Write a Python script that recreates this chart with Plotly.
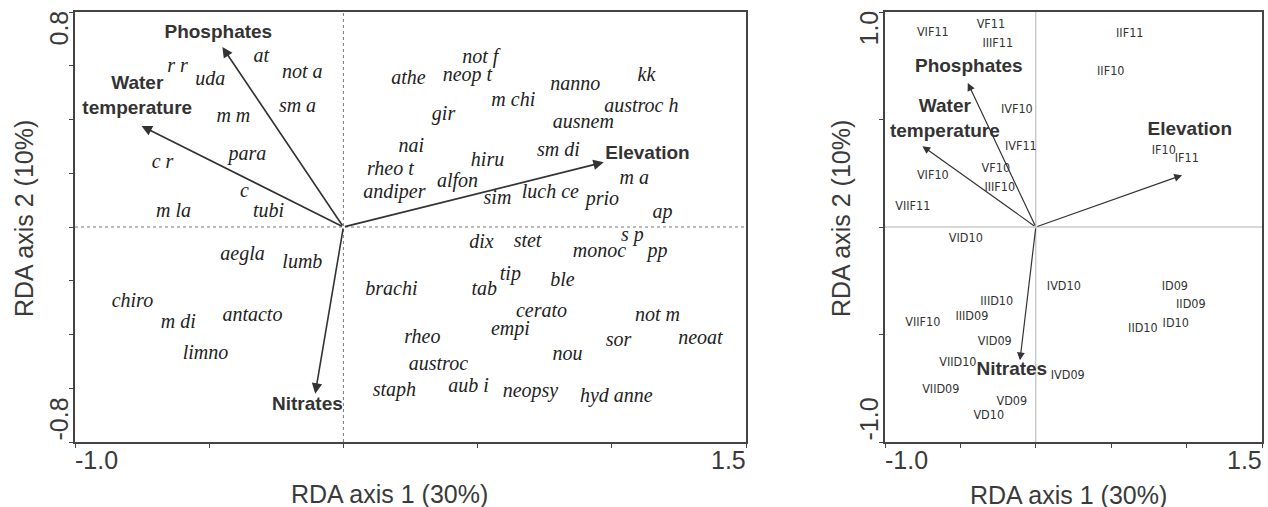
"""
RDA biplots: macroinvertebrate taxa (left) and sampling sites (right)
with environmental vectors.
"""

import plotly.graph_objects as go

# environmental vectors (same scores in both panels)
env_names = ['Phosphates', 'Water temperature', 'Elevation', 'Nitrates']
env_x = [-0.451, -0.752, 0.970, -0.105]
env_y = [0.670, 0.376, 0.241, -0.620]

# where the vector names sit
env_lab_left = ['Phosphates', 'Water<br>temperature', 'Elevation', 'Nitrates']
env_lab_left_x = [-0.466, -0.768, 1.133, -0.134]
env_lab_left_y = [0.722, 0.484, 0.272, -0.662]
env_lab_right_x = [-0.444, -0.603, 1.021, -0.159]
env_lab_right_y = [0.745, 0.500, 0.449, -0.667]

# taxa scores (left panel)
taxa = ['at', 'r r', 'not a', 'uda', 'm m', 'sm a', 'para', 'c r', 'c', 'tubi',
        'm la', 'not f', 'athe', 'neop t', 'nanno', 'kk', 'm chi', 'austroc h',
        'gir', 'ausnem', 'nai', 'sm di', 'hiru', 'rheo t', 'alfon', 'm a',
        'andiper', 'sim', 'luch ce', 'prio', 'ap', 'aegla', 'lumb', 'chiro',
        'antacto', 'm di', 'limno', 's p', 'dix', 'stet', 'monoc', 'pp', 'tip',
        'ble', 'brachi', 'tab', 'cerato', 'not m', 'empi', 'rheo', 'sor',
        'neoat', 'nou', 'austroc', 'staph', 'aub i', 'neopsy', 'hyd anne']
taxa_x = [-0.306, -0.618, -0.153, -0.496, -0.410, -0.171, -0.358, -0.674, -0.369, -0.279,
          -0.633, 0.510, 0.242, 0.462, 0.864, 1.129, 0.633, 1.110,
          0.373, 0.894, 0.253, 0.801, 0.537, 0.175, 0.425, 1.084,
          0.190, 0.574, 0.771, 0.965, 1.189, -0.376, -0.153, -0.786,
          -0.339, -0.615, -0.514, 1.077, 0.514, 0.686, 0.954, 1.170, 0.622,
          0.816, 0.179, 0.525, 0.738, 1.170, 0.622, 0.294, 1.025,
          1.330, 0.835, 0.354, 0.190, 0.466, 0.697, 1.017]
taxa_y = [0.633, 0.595, 0.573, 0.547, 0.409, 0.447, 0.268, 0.238, 0.130, 0.056,
          0.056, 0.629, 0.551, 0.562, 0.528, 0.562, 0.469, 0.447,
          0.417, 0.387, 0.298, 0.283, 0.246, 0.212, 0.167, 0.179,
          0.127, 0.104, 0.127, 0.100, 0.052, -0.104, -0.134, -0.279,
          -0.331, -0.357, -0.473, -0.033, -0.060, -0.056, -0.093, -0.093, -0.179,
          -0.201, -0.234, -0.234, -0.316, -0.331, -0.383, -0.413, -0.424,
          -0.417, -0.476, -0.513, -0.610, -0.595, -0.614, -0.633]

# site scores (right panel)
sites = ['VIF11', 'VF11', 'IIIF11', 'IIF11', 'IIF10', 'IVF10', 'IVF11', 'IF10',
         'IF11', 'VF10', 'VIF10', 'IIIF10', 'VIIF11', 'VID10', 'IVD10', 'ID09',
         'IIID10', 'IID09', 'VIIF10', 'IIID09', 'ID10', 'IID10', 'VID09',
         'VIID10', 'IVD09', 'VIID09', 'VD09', 'VD10']
sites_x = [-0.683, -0.298, -0.252, 0.623, 0.497, -0.126, -0.099, 0.849,
           1.001, -0.265, -0.683, -0.239, -0.816, -0.464, 0.186, 0.922,
           -0.259, 1.028, -0.749, -0.424, 0.928, 0.710, -0.272,
           -0.517, 0.212, -0.630, -0.159, -0.312]
sites_y = [0.903, 0.940, 0.852, 0.898, 0.722, 0.546, 0.375, 0.352,
           0.319, 0.269, 0.236, 0.181, 0.093, -0.056, -0.278, -0.278,
           -0.347, -0.361, -0.444, -0.417, -0.449, -0.472, -0.532,
           -0.630, -0.694, -0.759, -0.815, -0.880]

x_range = [-1.0, 1.5]
y_range_left = [-0.8, 0.8]
y_range_right = [-1.0, 1.0]

W, H = 1268, 507
dom_x_left = [75 / W, 746 / W]
dom_x_right = [885 / W, 1262 / W]
dom_y = [1 - 442 / H, 1 - 12 / H]

AX_COL = '#3a3a3a'
TXT_COL = '#333333'

fig = go.Figure()

# taxa names
fig.add_trace(go.Scatter(
    x=taxa_x, y=taxa_y, text=taxa, mode='text',
    textfont=dict(family='Liberation Serif, Times New Roman, serif', size=20,
                  style='italic', color='#222222'),
    xaxis='x', yaxis='y', hoverinfo='skip'))

# vector names, left
fig.add_trace(go.Scatter(
    x=env_lab_left_x, y=env_lab_left_y, text=env_lab_left, mode='text',
    textfont=dict(family='Liberation Sans, Arial, sans-serif', size=19,
                  weight='bold', color=TXT_COL),
    xaxis='x', yaxis='y', hoverinfo='skip'))

# site names
fig.add_trace(go.Scatter(
    x=sites_x, y=sites_y, text=sites, mode='text',
    textfont=dict(family='Liberation Sans Narrow, DejaVu Sans Condensed, Arial Narrow, sans-serif',
                  size=12.5, color=TXT_COL),
    xaxis='x2', yaxis='y2', hoverinfo='skip'))

# vector names, right
fig.add_trace(go.Scatter(
    x=env_lab_right_x, y=env_lab_right_y, text=env_lab_left, mode='text',
    textfont=dict(family='Liberation Sans, Arial, sans-serif', size=19,
                  weight='bold', color=TXT_COL),
    xaxis='x2', yaxis='y2', hoverinfo='skip'))

# origin lines
fig.add_shape(type='line', xref='x', yref='y', x0=x_range[0], x1=x_range[1], y0=0, y1=0,
              line=dict(color='#777777', width=1, dash='dot'), layer='below')
fig.add_shape(type='line', xref='x', yref='y', x0=0, x1=0, y0=y_range_left[0], y1=y_range_left[1],
              line=dict(color='#777777', width=1, dash='dot'), layer='below')
fig.add_shape(type='line', xref='x2', yref='y2', x0=x_range[0], x1=x_range[1], y0=0, y1=0,
              line=dict(color='#b0b0b0', width=1), layer='below')
fig.add_shape(type='line', xref='x2', yref='y2', x0=0, x1=0, y0=y_range_right[0], y1=y_range_right[1],
              line=dict(color='#b0b0b0', width=1), layer='below')

annotations = []

# vectors as arrows from the origin
for ex, ey in zip(env_x, env_y):
    annotations.append(dict(
        x=ex, y=ey, ax=0, ay=0, xref='x', yref='y', axref='x', ayref='y',
        text='', showarrow=True, arrowhead=2, arrowsize=1.3, arrowwidth=1.6,
        arrowcolor='#333333'))
    annotations.append(dict(
        x=ex, y=ey, ax=0, ay=0, xref='x2', yref='y2', axref='x2', ayref='y2',
        text='', showarrow=True, arrowhead=2, arrowsize=1.3, arrowwidth=1.2,
        arrowcolor='#333333'))

tick_font = dict(family='Liberation Sans, Arial, sans-serif', size=25, color=AX_COL)
title_font = dict(family='Liberation Sans, Arial, sans-serif', size=25, color=AX_COL)

for dx, lo_y, hi_y in [(dom_x_left, '-0.8', '0.8'), (dom_x_right, '-1.0', '1.0')]:
    # y end labels, rotated
    annotations.append(dict(text=hi_y, xref='paper', yref='paper', x=dx[0], y=dom_y[1],
                            xanchor='right', yanchor='top', textangle=-90, showarrow=False,
                            xshift=-1, yshift=3, font=tick_font))
    annotations.append(dict(text=lo_y, xref='paper', yref='paper', x=dx[0], y=dom_y[0],
                            xanchor='right', yanchor='bottom', textangle=-90, showarrow=False,
                            xshift=-1, yshift=-1, font=tick_font))
    # x end labels
    annotations.append(dict(text='-1.0', xref='paper', yref='paper', x=dx[0], y=dom_y[0],
                            xanchor='left', yanchor='top', showarrow=False,
                            xshift=-2, yshift=-2, font=tick_font))
    annotations.append(dict(text='1.5', xref='paper', yref='paper', x=dx[1], y=dom_y[0],
                            xanchor='right', yanchor='top', showarrow=False,
                            xshift=2, yshift=-2, font=tick_font))

# axis titles
annotations.append(dict(text='RDA axis 1 (30%)', xref='paper', yref='paper',
                        x=390 / W, y=1 - 494 / H, xanchor='center', yanchor='middle',
                        showarrow=False, font=title_font))
annotations.append(dict(text='RDA axis 1 (30%)', xref='paper', yref='paper',
                        x=1068 / W, y=1 - 495 / H, xanchor='center', yanchor='middle',
                        showarrow=False, font=title_font))
annotations.append(dict(text='RDA axis 2 (10%)', xref='paper', yref='paper',
                        x=24 / W, y=1 - 219 / H, xanchor='center', yanchor='middle',
                        textangle=-90, showarrow=False, font=title_font))
annotations.append(dict(text='RDA axis 2 (10%)', xref='paper', yref='paper',
                        x=841 / W, y=1 - 219 / H, xanchor='center', yanchor='middle',
                        textangle=-90, showarrow=False, font=title_font))

axis_common = dict(showgrid=False, zeroline=False, showticklabels=False,
                   showline=True, mirror=True, linecolor='#444444', linewidth=2,
                   ticks='outside', ticklen=4, tickcolor='#444444', tickwidth=1,
                   fixedrange=True)

fig.update_layout(
    width=W, height=H,
    margin=dict(l=0, r=0, t=0, b=0),
    paper_bgcolor='white', plot_bgcolor='white',
    showlegend=False,
    xaxis=dict(domain=dom_x_left, range=x_range, anchor='y',
               tickvals=[-1.0, -0.5, 0, 0.5, 1.0, 1.5], **axis_common),
    yaxis=dict(domain=dom_y, range=y_range_left, anchor='x',
               tickvals=[-0.8, -0.6, -0.4, -0.2, 0, 0.2, 0.4, 0.6, 0.8], **axis_common),
    xaxis2=dict(domain=dom_x_right, range=x_range, anchor='y2',
                tickvals=[-1.0, -0.5, 0, 0.5, 1.0, 1.5], **axis_common),
    yaxis2=dict(domain=dom_y, range=y_range_right, anchor='x2',
                tickvals=[-1.0, -0.5, 0, 0.5, 1.0], **axis_common),
    annotations=annotations,
)

# page body has a default margin; drop it so the figure sits at the corner
fig.write_html("out.html", config={'displayModeBar': False},
               post_script="document.body.style.margin='0';document.body.style.overflow='hidden';")
